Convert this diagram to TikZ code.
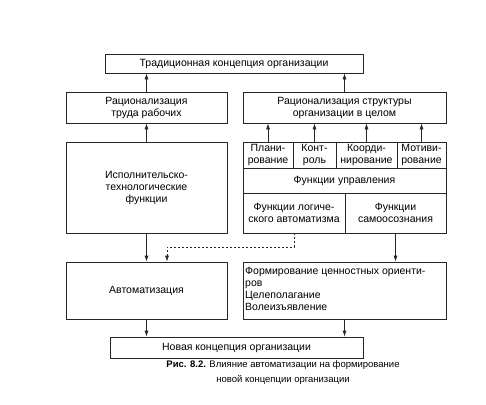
\documentclass[tikz,border=0pt]{standalone}
\usepackage{fontspec}
\setmainfont{Liberation Sans}
\usetikzlibrary{arrows.meta}
\begin{document}
\begin{tikzpicture}[x=1pt,y=-1pt,
  box/.style={draw=black!85, line width=0.7pt, inner sep=1pt, align=center, font=\fontsize{10.5}{12}\selectfont},
  arr/.style={-{Latex[length=6pt,width=4pt]}, line width=0.7pt, draw=black!85},
  darr/.style={arr, dashed, dash pattern=on 2pt off 2pt}]
\useasboundingbox (0,0) rectangle (486,404);
\node[box, minimum width=258, minimum height=19] (top) at (234,63.5) {Традиционная концепция организации};
\node[box, minimum width=161, minimum height=31] (r1L) at (146.5,107.5) {Рационализация\\труда рабочих};
\node[box, minimum width=203, minimum height=31] (r1R) at (344.5,107.5) {Рационализация структуры\\организации в целом};
\node[box, minimum width=161, minimum height=91] (isp) at (146.5,187.5) {Исполнительско-\\технологические\\функции};
\node[box, minimum width=50, minimum height=26] (plan) at (268,155) {Плани-\\рование};
\node[box, minimum width=43, minimum height=26] (kontr) at (314.5,155) {Конт-\\роль};
\node[box, minimum width=61, minimum height=26] (koord) at (366.5,155) {Коорди-\\нирование};
\node[box, minimum width=49, minimum height=26] (motiv) at (421.5,155) {Мотиви-\\рование};
\node[box, minimum width=203, minimum height=25] (upr) at (344.5,180.5) {Функции управления};
\node[box, minimum width=102, minimum height=40] (log) at (294,213) {Функции логиче-\\ского автоматизма};
\node[box, minimum width=101, minimum height=40] (samo) at (395.5,213) {Функции\\самоосознания};
\node[box, minimum width=161, minimum height=57] (avt) at (146.5,290.5) {Автоматизация};
\node[box, minimum width=203, minimum height=57] (form) at (344.5,290.5) {};
\node[anchor=north west, inner sep=0pt, align=left, font=\fontsize{10.5}{12}\selectfont] (formtxt) at (245,267) {Формирование ценностных ориенти-\\ров\\Целеполагание\\Волеизъявление};
\node[box, minimum width=253, minimum height=21] (new) at (236.5,347.5) {Новая концепция организации};
\node[align=center, inner sep=0pt, font=\fontsize{9.5}{15}\selectfont] (cap) at (283,372.5) {\textbf{Рис. 8.2.} Влияние автоматизации на формирование\\новой концепции организации};
\coordinate (dj) at (167,247);
\draw[arr] (r1L.north) -- (r1L.north |- top.south);
\draw[arr] (r1R.north) -- (r1R.north |- top.south);
\draw[arr] (isp.north) -- (isp.north |- r1L.south);
\draw[arr] (plan.north) -- (plan.north |- r1R.south);
\draw[arr] (kontr.north) -- (kontr.north |- r1R.south);
\draw[arr] (koord.north) -- (koord.north |- r1R.south);
\draw[arr] (motiv.north) -- (motiv.north |- r1R.south);
\draw[arr] (isp.south) -- (isp.south |- avt.north);
\draw[darr] (log.south) |- (dj) -- (dj |- avt.north);
\draw[arr] (samo.south) -- (samo.south |- form.north);
\draw[arr] (avt.south) -- (avt.south |- new.north);
\draw[arr] (form.south) -- (form.south |- new.north);
\end{tikzpicture}
\end{document}
